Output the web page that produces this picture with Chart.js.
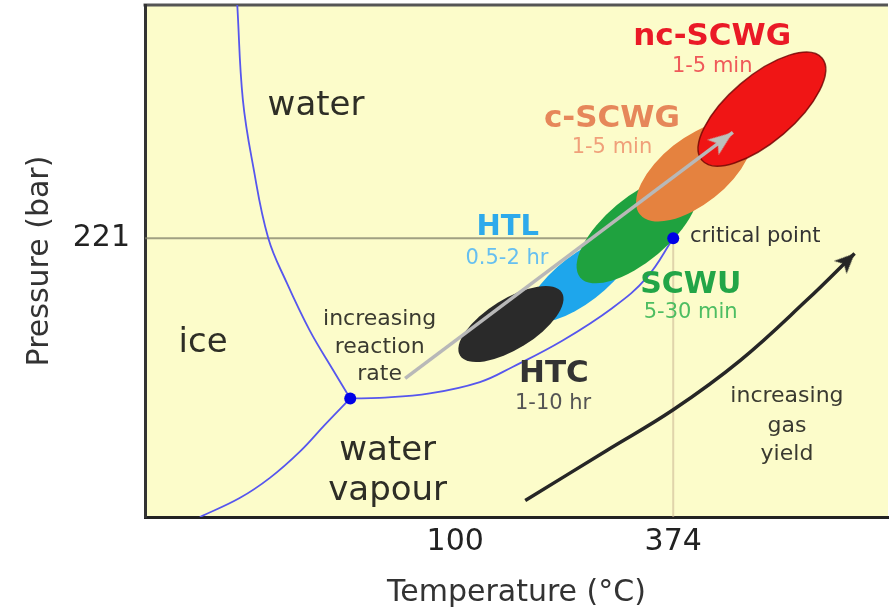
<!DOCTYPE html>
<html>
<head>
<meta charset="utf-8">
<title>Hydrothermal processes on the water phase diagram</title>
<script src="https://cdn.jsdelivr.net/npm/chart.js@4/dist/chart.umd.min.js"></script>
<style>
  html, body { margin: 0; padding: 0; background: #fff; }
  #wrap { width: 893px; height: 614px; }
</style>
</head>
<body>
<div id="wrap"><canvas id="phaseChart" width="893" height="614"></canvas></div>
<script>
// axis ticks and (schematic) ranges
const tempTicks = [100, 374];
const presTicks = [221];
const tempRange = [-290, 644];
const presRange = [0, 406];

// phase boundaries
const meltTemp = [-174, -167, -154, -135, -112, -83, -54, -32];
const meltPres = [406, 331, 278, 221, 186, 148, 117, 94];
const sublTemp = [-32, -64, -95, -133, -171, -221];
const sublPres = [94, 73, 52, 31, 15, 0];
const vapTemp = [-32, 5, 68, 131, 172, 235, 298, 341, 374];
const vapPres = [94, 94.5, 98, 107, 119, 140, 166, 190, 221];
const pointTemp = [-32, 374];   // triple point, critical point
const pointPres = [94, 221];

// process windows: ends of the long axis (temperature, pressure)
const processNames = ["HTL", "HTC", "SCWU", "c-SCWG", "nc-SCWG"];
const processT0 = [194, 106, 257, 332, 410];
const processP0 = [158, 128, 190, 240, 283];
const processT1 = [322, 234, 401, 468, 561];
const processP1 = [220, 178, 266, 308, 364];

// arrows
const rateTemp = [37, 449];
const ratePres = [110, 305];
const gasTemp = [188, 291, 374, 458, 542, 602];
const gasPres = [13, 53, 85, 124, 172, 209];

const FONT = "'DejaVu Sans', Verdana, sans-serif";

const processStyle = {
    "HTL": { fill: "#1ea6ec", half: 24 },
    "HTC": { fill: "#2a2a2a", half: 25 },
    "SCWU": { fill: "#1fa23f", half: 32 },
    "c-SCWG": { fill: "#e5823f", half: 33 },
    "nc-SCWG": { fill: "#f01515", half: 33, stroke: "rgba(110,0,0,0.8)" }
};

// text labels: [text, temperature, pressure (baseline), font, colour, align]
const labels = [
    ["water", -75, 319, "34px", "#2e2e26", "center"],
    ["ice", -217, 131, "34px", "#2e2e26", "center"],
    ["water", 15, 45, "34px", "#2e2e26", "center"],
    ["vapour", 15, 13.5, "34px", "#2e2e26", "center"],
    ["increasing", 5, 152, "22px", "#3a3a30", "center"],
    ["reaction", 5, 130, "22px", "#3a3a30", "center"],
    ["rate", 5, 108.5, "22px", "#3a3a30", "center"],
    ["HTC", 224, 107, "bold 31px", "#333333", "center"],
    ["1-10 hr", 223, 86, "21px", "#555555", "center"],
    ["HTL", 166, 224, "bold 29px", "#2eaaeb", "center"],
    ["0.5-2 hr", 165, 201, "21px", "#66bff0", "center"],
    ["SCWU", 396, 178, "bold 30px", "#22a547", "center"],
    ["5-30 min", 396, 158, "21px", "#4dbd62", "center"],
    ["critical point", 395, 218, "21px", "#333333", "left"],
    ["c-SCWG", 297, 309, "bold 31px", "#e6875a", "center"],
    ["1-5 min", 297, 289, "21px", "#f0a07a", "center"],
    ["nc-SCWG", 423, 374, "bold 31px", "#ea1a26", "center"],
    ["1-5 min", 423, 353, "21px", "#ef5a5a", "center"],
    ["increasing", 517, 91, "22px", "#3a3a30", "center"],
    ["gas", 517, 67.5, "22px", "#3a3a30", "center"],
    ["yield", 517, 45, "22px", "#3a3a30", "center"]
];

function pts(xs, ys) {
    return xs.map((x, i) => ({ x: x, y: ys[i] }));
}

// arrowhead drawn on a small canvas, tip at the centre, pointing up
function arrowHead(len, width, colour) {
    const c = document.createElement("canvas");
    c.width = Math.ceil(width) + 2;
    c.height = Math.ceil(len * 2) + 2;
    const g = c.getContext("2d");
    const cx = c.width / 2, cy = c.height / 2;
    g.fillStyle = colour;
    g.beginPath();
    g.moveTo(cx, cy);
    g.lineTo(cx + width / 2, cy + len);
    g.lineTo(cx, cy + len * 0.75);
    g.lineTo(cx - width / 2, cy + len);
    g.closePath();
    g.fill();
    return c;
}

function endRotation(ctx) {
    const data = ctx.dataset.data;
    const i = ctx.dataIndex;
    if (i !== data.length - 1) return 0;
    const xs = ctx.chart.scales.x, ys = ctx.chart.scales.y;
    const dx = xs.getPixelForValue(data[i].x) - xs.getPixelForValue(data[i - 1].x);
    const dy = ys.getPixelForValue(data[i].y) - ys.getPixelForValue(data[i - 1].y);
    return Math.atan2(dx, -dy) * 180 / Math.PI;
}

function lastOnly(value) {
    return ctx => ctx.dataIndex === ctx.dataset.data.length - 1 ? value : 0;
}

function noPadding(s) {
    s.paddingTop = 0;
    s.paddingBottom = 0;
    s.paddingLeft = 0;
    s.paddingRight = 0;
}

const background = {
    id: "background",
    beforeDraw(chart) {
        const { ctx, chartArea: a } = chart;
        ctx.save();
        ctx.fillStyle = "#fcfcca";
        ctx.fillRect(a.left, a.top, a.right - a.left, a.bottom - a.top);
        ctx.strokeStyle = "#555555";
        ctx.lineWidth = 3;
        ctx.beginPath();
        ctx.moveTo(a.left - 1.5, a.top);
        ctx.lineTo(a.right, a.top);
        ctx.stroke();
        ctx.restore();
    }
};

const processWindows = {
    id: "processWindows",
    beforeDatasetDraw(chart, args) {
        if (chart.data.datasets[args.index].label !== "phase points") return;
        const { ctx, scales: { x, y } } = chart;
        ctx.save();
        processNames.forEach((name, i) => {
            const ax = x.getPixelForValue(processT0[i]), ay = y.getPixelForValue(processP0[i]);
            const bx = x.getPixelForValue(processT1[i]), by = y.getPixelForValue(processP1[i]);
            const st = processStyle[name];
            ctx.beginPath();
            ctx.ellipse((ax + bx) / 2, (ay + by) / 2, Math.hypot(bx - ax, by - ay) / 2, st.half,
                Math.atan2(by - ay, bx - ax), 0, Math.PI * 2);
            ctx.fillStyle = st.fill;
            ctx.fill();
            if (st.stroke) {
                ctx.strokeStyle = st.stroke;
                ctx.lineWidth = 1.5;
                ctx.stroke();
            }
        });
        ctx.restore();
    }
};

const textLabels = {
    id: "textLabels",
    afterDatasetsDraw(chart) {
        const { ctx, scales: { x, y } } = chart;
        ctx.save();
        ctx.textBaseline = "alphabetic";
        labels.forEach(([text, t, p, font, colour, align]) => {
            ctx.font = font + " " + FONT;
            ctx.fillStyle = colour;
            ctx.textAlign = align;
            ctx.fillText(text, x.getPixelForValue(t), y.getPixelForValue(p));
        });
        ctx.restore();
    }
};

const phaseLine = { showLine: true, borderColor: "#5656ee", borderWidth: 1.8, pointRadius: 0,
                    tension: 0.4, order: 3 };

new Chart(document.getElementById("phaseChart"), {
    type: "scatter",
    data: {
        datasets: [
            { label: "gas yield", data: pts(gasTemp, gasPres), showLine: true, borderColor: "#262626",
              borderWidth: 3.5, tension: 0.4, order: 0,
              pointStyle: arrowHead(20, 18, "#262626"), pointRadius: lastOnly(8), pointRotation: endRotation },
            { label: "reaction rate", data: pts(rateTemp, ratePres), showLine: true, borderColor: "#b8b8b8",
              borderWidth: 3.5, order: 1,
              pointStyle: arrowHead(25, 19, "#bcc2bc"), pointRadius: lastOnly(8), pointRotation: endRotation },
            { label: "phase points", data: pts(pointTemp, pointPres), pointRadius: 6,
              pointBackgroundColor: "#0000e6", pointBorderWidth: 0, order: 2 },
            Object.assign({ label: "melting", data: pts(meltTemp, meltPres) }, phaseLine),
            Object.assign({ label: "sublimation", data: pts(sublTemp, sublPres) }, phaseLine),
            Object.assign({ label: "vaporisation", data: pts(vapTemp, vapPres) }, phaseLine),
            { label: "221 bar", data: [{ x: tempRange[0], y: 221 }, { x: 374, y: 221 }], showLine: true,
              borderColor: "rgba(130,130,105,0.75)", borderWidth: 2, pointRadius: 0, order: 4 },
            { label: "374 C", data: [{ x: 374, y: 0 }, { x: 374, y: 221 }], showLine: true,
              borderColor: "rgba(205,185,150,0.6)", borderWidth: 2, pointRadius: 0, order: 4 }
        ]
    },
    options: {
        responsive: false,
        animation: false,
        devicePixelRatio: 1,
        events: [],
        layout: { autoPadding: false, padding: { top: 5, right: 5, bottom: 0, left: 0 } },
        plugins: { legend: { display: false }, tooltip: { enabled: false } },
        scales: {
            x: {
                type: "linear", min: tempRange[0], max: tempRange[1],
                afterBuildTicks: s => { s.ticks = tempTicks.map(v => ({ value: v })); },
                afterFit: s => { s.height = 97; noPadding(s); },
                ticks: { padding: 7, color: "#222", font: { family: FONT, size: 30 } },
                grid: { display: false, drawTicks: false },
                border: { color: "#222", width: 3 },
                title: { display: true, text: "Temperature (°C)", color: "#333",
                         font: { family: FONT, size: 30 }, padding: { top: 0, bottom: 3 } }
            },
            y: {
                type: "linear", min: presRange[0], max: presRange[1],
                afterBuildTicks: s => { s.ticks = presTicks.map(v => ({ value: v })); },
                afterFit: s => { s.width = 145; noPadding(s); },
                ticks: { padding: 15, color: "#222", font: { family: FONT, size: 30 } },
                grid: { display: false, drawTicks: false },
                border: { color: "#333", width: 3 },
                title: { display: true, text: "Pressure (bar)", color: "#333",
                         font: { family: FONT, size: 30 }, padding: { top: 22, bottom: 0 } }
            }
        }
    },
    plugins: [background, processWindows, textLabels]
});
</script>
</body>
</html>
